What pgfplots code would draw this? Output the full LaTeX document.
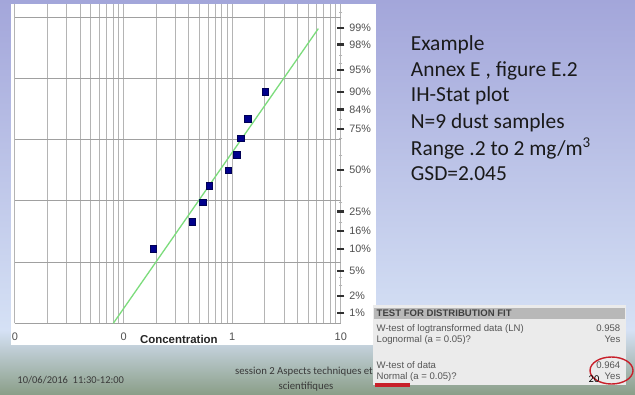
\documentclass[border=0pt]{standalone}
\usepackage{fontspec}
\setmainfont{Carlito}
\newfontfamily\arial{Liberation Sans}
\usepackage{pgfplots}
\pgfplotsset{compat=1.18}
\definecolor{bgtop}{HTML}{A3A6DA}
\definecolor{bgmid}{HTML}{D5E1F5}
\definecolor{bgbot}{HTML}{8B9F89}
\definecolor{gridgray}{HTML}{B4B4B4}
\definecolor{hgridgray}{HTML}{A0A0A0}
\definecolor{labelgray}{HTML}{505050}
\definecolor{tickdark}{HTML}{303030}
\definecolor{linegreen}{HTML}{7CDC7C}
\definecolor{marknavy}{HTML}{00008C}
\definecolor{textdark}{HTML}{1A1A1A}
\definecolor{footgray}{HTML}{3A3A3A}
\definecolor{tablebg}{HTML}{EBEBEB}
\definecolor{hdrgray}{HTML}{B8B8B8}
\definecolor{tabtext}{HTML}{555555}
\definecolor{circred}{HTML}{C8202A}
\begin{document}
\begin{tikzpicture}[x=1bp,y=1bp]
\useasboundingbox (0,0) rectangle (635,394);
\shade[top color=bgtop, bottom color=bgmid] (0,64) rectangle (635,394);
\shade[top color=bgmid, bottom color=bgbot] (0,0) rectangle (635,64);
\fill[white] (11,49) rectangle (376,390);
\begin{axis}[
  at={(15bp,70.7bp)}, anchor=south west,
  scale only axis, width=325.8bp, height=319bp,
  xmode=log, xmin=0.01, xmax=10, ymin=-2.5, ymax=2.712,
  axis line style={draw=none},
  xtick={0.01,0.1,1,10}, xticklabels={0,0,1,10},
  xmajorgrids, xminorgrids,
  major grid style={draw=gridgray, line width=1bp},
  minor grid style={draw=gridgray, line width=1bp},
  x tick style={draw=none},
  xticklabel style={font=\arial\fontsize{11}{12}\selectfont, text=labelgray, yshift=-3bp},
  ytick={-2.3263,-2.0537,-1.6449,-1.2816,-0.9945,-0.6745,0,0.6745,0.9945,1.2816,1.6449,2.0537,2.3263},
  yticklabels={1\%,2\%,5\%,10\%,16\%,25\%,50\%,75\%,84\%,90\%,95\%,98\%,99\%},
  ytick pos=right, yticklabel pos=right,
  y tick style={line width=2.2bp, draw=tickdark},
  tick align=center, major tick length=7bp,
  minor ytick={-1.8808,-1.7507,-0.8416,-0.5244,-0.2533,0.2533,0.5244,0.8416,1.7507,1.8808,2.5758},
  minor tick length=3bp,
  minor y tick style={line width=0.5bp, draw=gridgray},
  yticklabel style={font=\arial\fontsize{10.8}{12}\selectfont, text=labelgray, xshift=1.5bp},
  extra y ticks={-2.5,-1.5,-0.5,0.5,1.5,2.5},
  extra y tick labels={},
  extra y tick style={ymajorgrids=true, major grid style={draw=hgridgray, line width=1bp}, y tick style={draw=none}},
  xlabel={Concentration},
  xlabel style={font=\arial\bfseries\fontsize{11.5}{12}\selectfont, text=black!85, at={(axis description cs:0.503,0)}, anchor=north, yshift=-8bp},
]
\addplot[color=linegreen, line width=1.3bp] coordinates {(0.0804,-2.5) (6.21,2.315)};
\addplot[only marks, mark=square*, mark size=3.3bp, mark options={fill=marknavy, draw=marknavy!60!black, line width=0.4bp}] coordinates {
(0.1877,-1.2816) (0.429,-0.8416) (0.535,-0.5244) (0.615,-0.2533) (0.921,0)
(1.10,0.2533) (1.198,0.5244) (1.389,0.8416) (2.005,1.2816)};
\end{axis}
% right text
\begin{scope}[every node/.style={anchor=base west, font=\fontsize{21.5}{25}\selectfont, text=textdark, inner sep=0pt}]
\node at (410.7,343.3) {Example};
\node at (410.7,318) {Annex E , figure E.2};
\node at (410.7,292.3) {IH-Stat plot};
\node at (410.7,265.7) {N=9 dust samples};
\node at (410.7,239) {Range .2 to 2 mg/m\textsuperscript{3}};
\node at (410.7,213.3) {GSD=2.045};
\end{scope}
% footer
\node[anchor=base west, inner sep=0pt, font=\fontsize{10.5}{12}\selectfont, text=footgray] at (17.3,11) {10/06/2016\ \ 11:30-12:00};
\node[anchor=base, inner sep=0pt, font=\fontsize{10.8}{12}\selectfont, text=footgray] at (304,19.5) {session 2 Aspects techniques et};
\node[anchor=base, inner sep=0pt, font=\fontsize{10.8}{12}\selectfont, text=footgray] at (306,4.5) {scientifiques};
% table
\fill[tablebg] (372.7,9) rectangle (626,89);
\fill[hdrgray] (374,74.7) rectangle (624.5,86.3);
\begin{scope}[every node/.style={inner sep=0pt, font=\arial\fontsize{9.6}{11}\selectfont, text=tabtext}]
\node[anchor=base west, font=\arial\bfseries\fontsize{9.6}{11}\selectfont, text=black!75] at (376.5,77.3) {TEST FOR DISTRIBUTION FIT};
\node[anchor=base west] at (376.5,63) {W-test of logtransformed data (LN)};
\node[anchor=base east] at (620.5,63) {0.958};
\node[anchor=base west] at (376.5,52) {Lognormal (a = 0.05)?};
\node[anchor=base east] at (620.5,52) {Yes};
\node[anchor=base west] at (376.5,25.6) {W-test of data};
\node[anchor=base east] at (620.5,25.6) {0.964};
\node[anchor=base west] at (376.5,14.6) {Normal (a = 0.05)?};
\node[anchor=base east] at (620.5,14.6) {Yes};
\end{scope}
\draw[circred, line width=1.4bp] (611.5,23.5) ellipse (21.5 and 13.5);
\fill[circred] (375,7.5) rectangle (410,11.5);
\node[anchor=base west, inner sep=0pt, font=\fontsize{10.5}{12}\selectfont, text=black] at (588.5,12) {20};
\end{tikzpicture}
\end{document}
